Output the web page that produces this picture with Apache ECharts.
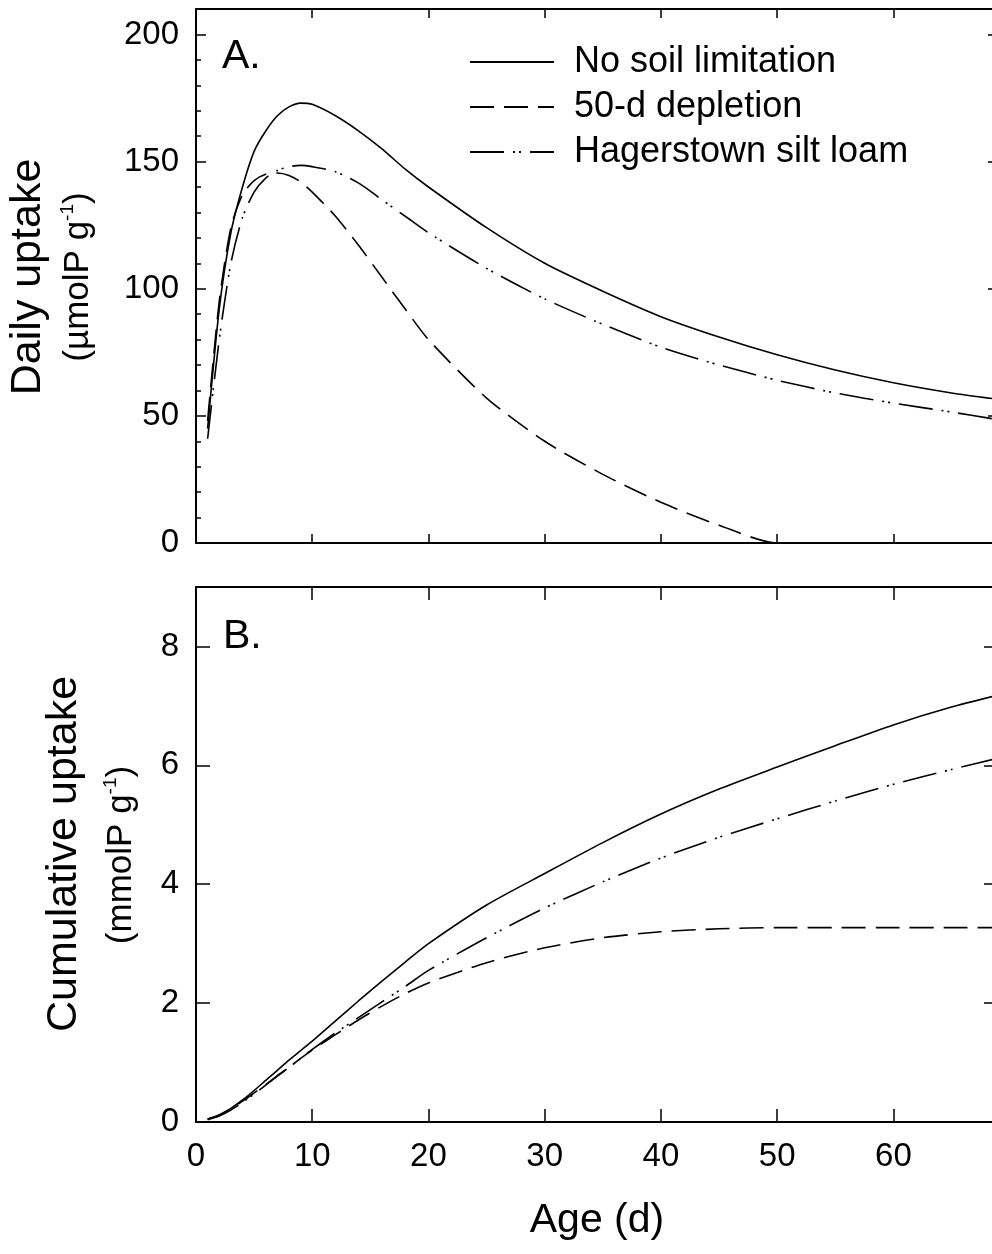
<!DOCTYPE html>
<html>
<head>
<meta charset="utf-8">
<script src="https://cdn.jsdelivr.net/npm/echarts@6/dist/echarts.min.js"></script>
<style>html,body{margin:0;padding:0;background:#fff;}#c{width:992px;height:1254px;}</style>
</head>
<body>
<div id="c"></div>
<script>
// ---- data ----
const ageDays = [1,2,3,4,5,6,7,8,9,10,12,14,16,18,20,25,30,35,40,45,50,55,60,65,69];
const seriesNames = ['No soil limitation', '50-d depletion', 'Hagerstown silt loam'];
// Daily uptake (µmolP g-1)
const dailyNoLimit = [45,92,122,140,154,162,168,171.5,173,172.5,168,162,155,147,140,124,110,99,89,81,74,68,63,59,56.5];
const dailyDepletion = [48,95,124,137,142.5,145,145.5,144.5,142,138,128.5,117,104.5,92,80,57,40,27,16,7,0,0,0,0,0];
const dailyHagerstown = [41,80,110,128,138,143.5,146.5,148,148.5,148,146,141.5,135,128.5,122,108,96,86,77,70,64,59,55,51.5,48.5];
// Cumulative uptake (mmolP g-1)
const cumNoLimit = [0.05,0.12,0.23,0.37,0.53,0.70,0.87,1.04,1.20,1.36,1.70,2.04,2.37,2.69,3.00,3.65,4.18,4.70,5.18,5.60,5.97,6.33,6.68,6.98,7.18];
const cumDepletion = [0.05,0.12,0.22,0.35,0.49,0.63,0.78,0.92,1.07,1.21,1.47,1.72,1.95,2.16,2.34,2.68,2.93,3.10,3.20,3.25,3.27,3.27,3.27,3.27,3.27];
const cumHagerstown = [0.04,0.10,0.20,0.33,0.47,0.62,0.77,0.92,1.07,1.22,1.50,1.76,2.02,2.28,2.55,3.10,3.60,4.04,4.44,4.79,5.10,5.40,5.68,5.93,6.12];
const dailyTicks = [0,50,100,150,200];
const cumTicks = [0,2,4,6,8];
const ageTicks = [0,10,20,30,40,50,60];

function pairs(xs, ys){ return xs.map((x,i)=>[x, ys[i]]); }

const FONT = 'Liberation Sans, Arial, Helvetica, sans-serif';
const styles = [
  {type:'solid'},
  {type:[24,10]},
  {type:[34,9,2,4,2,9]}
];

function xAx(grid, pos, labels, extra){
  return Object.assign({
    type:'value', gridIndex:grid, position:pos, min:0, max:69, interval:10,
    axisLine:{show:true, onZero:false, lineStyle:{color:'#000', width:2}},
    axisTick:{show:true, inside:true, length: grid===0?9:13, lineStyle:{color:'#000', width:1.5}},
    axisLabel:{show:labels, color:'#000', fontFamily:FONT, fontSize:33, margin:18, showMaxLabel:false,
      formatter: v => ageTicks.includes(v) ? String(v) : ''},
    splitLine:{show:false}
  }, extra||{});
}
function yAx(grid, pos, labels, max, interval, ticks, tickLen, minor){
  return {
    type:'value', gridIndex:grid, position:pos, min:0, max:max, interval:interval,
    axisLine:{show:true, onZero:false, lineStyle:{color:'#000', width:2}},
    axisTick:{show:true, inside:true, length:tickLen, lineStyle:{color:'#000', width:1.5}},
    minorTick:{show:minor, splitNumber:5, length:5, lineStyle:{color:'#000', width:1.5}},
    axisLabel:{show:labels, color:'#000', fontFamily:FONT, fontSize:33, margin:17, showMaxLabel:false,
      formatter: v => ticks.includes(v) ? String(v) : ''},
    splitLine:{show:false}, minorSplitLine:{show:false}
  };
}

const dailySets = [dailyNoLimit, dailyDepletion, dailyHagerstown];
const cumSets = [cumNoLimit, cumDepletion, cumHagerstown];
const series = [];
dailySets.forEach((d,i)=>{
  series.push({name:seriesNames[i], type:'line', xAxisIndex:0, yAxisIndex:0, data:pairs(ageDays,d),
    showSymbol:false, symbol:'none', smooth:0.25, clip:false, itemStyle:{color:'#000'},
    lineStyle:Object.assign({color:'#000', width:1.6}, styles[i])});
});
cumSets.forEach((d,i)=>{
  series.push({name:seriesNames[i], type:'line', xAxisIndex:2, yAxisIndex:2, data:pairs(ageDays,d),
    showSymbol:false, symbol:'none', smooth:0.25, clip:false, itemStyle:{color:'#000'},
    lineStyle:Object.assign({color:'#000', width:1.6}, styles[i])});
});

const chart = echarts.init(document.getElementById('c'), null, {renderer:'canvas'});
chart.setOption({
  animation:false,
  backgroundColor:'#fff',
  textStyle:{fontFamily:FONT},
  grid:[
    {left:196, top:9, width:802, height:534, outerBoundsMode:'none', containLabel:false},
    {left:196, top:587, width:802, height:535, outerBoundsMode:'none', containLabel:false}
  ],
  xAxis:[
    xAx(0,'bottom',false),
    xAx(0,'top',false),
    xAx(1,'bottom',true,{name:'Age (d)', nameLocation:'middle', nameGap:78,
      nameTextStyle:{color:'#000', fontFamily:FONT, fontSize:41}}),
    xAx(1,'top',false)
  ],
  yAxis:[
    yAx(0,'left',true,210,50,dailyTicks,10,true),
    yAx(0,'right',false,210,50,dailyTicks,10,true),
    yAx(1,'left',true,9,2,cumTicks,14,false),
    yAx(1,'right',false,9,2,cumTicks,14,false)
  ],
  legend:{
    data:seriesNames, orient:'vertical', left:469, top:44, padding:0,
    itemWidth:84, itemHeight:14, itemGap:9,
    itemStyle:{opacity:0},
    textStyle:{color:'#000', fontFamily:FONT, fontSize:36, padding:[0,0,0,15]},
    inactiveColor:'#000', selectedMode:false
  },
  graphic:[
    {type:'text', x:222, y:57, style:{text:'A.', font:'41px '+FONT, fill:'#000', textAlign:'left', textVerticalAlign:'middle'}},
    {type:'text', x:223, y:637, style:{text:'B.', font:'41px '+FONT, fill:'#000', textAlign:'left', textVerticalAlign:'middle'}},
    {type:'text', x:28, y:277, rotation:Math.PI/2, style:{text:'Daily uptake', font:'43px '+FONT, fill:'#000', textAlign:'center', textVerticalAlign:'middle'}},
    {type:'text', x:78, y:277, rotation:Math.PI/2, style:{
      text:'{s|(µmolP g}{p|-1}{s|)}', textAlign:'center', textVerticalAlign:'middle', fill:'#000',
      rich:{s:{fontSize:35, fontFamily:FONT, lineHeight:40, fill:'#000'}, p:{fontSize:19, fontFamily:FONT, lineHeight:26, verticalAlign:'top', fill:'#000'}}}},
    {type:'text', x:64, y:854, rotation:Math.PI/2, style:{text:'Cumulative uptake', font:'43px '+FONT, fill:'#000', textAlign:'center', textVerticalAlign:'middle'}},
    {type:'text', x:121, y:855, rotation:Math.PI/2, style:{
      text:'{s|(mmolP g}{p|-1}{s|)}', textAlign:'center', textVerticalAlign:'middle', fill:'#000',
      rich:{s:{fontSize:35, fontFamily:FONT, lineHeight:40, fill:'#000'}, p:{fontSize:19, fontFamily:FONT, lineHeight:26, verticalAlign:'top', fill:'#000'}}}}
  ],
  series:series
});
</script>
</body>
</html>
